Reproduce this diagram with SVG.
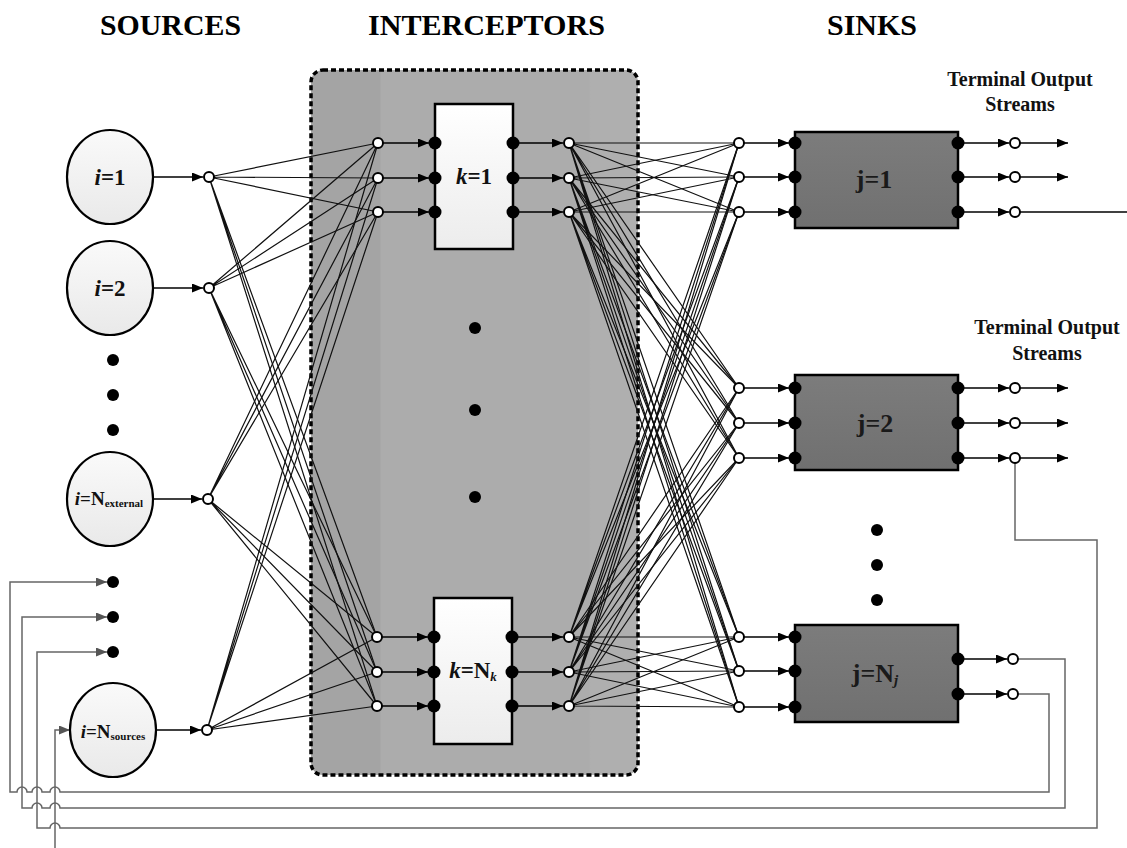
<svg xmlns="http://www.w3.org/2000/svg" width="1127" height="848" viewBox="0 0 1127 848">
<style>
.hd{font-family:"Liberation Serif","Times New Roman",serif;font-weight:bold;font-size:30px;fill:#000}
.tos{font-family:"Liberation Serif","Times New Roman",serif;font-weight:bold;font-size:20px;fill:#111;text-anchor:middle}
.lbl{font-family:"Liberation Serif","Times New Roman",serif;font-weight:bold;font-size:23px;fill:#111;text-anchor:middle}
.sub{font-size:11px}
.mesh{stroke:#111;stroke-width:1.2;fill:none}
.arr{stroke:#000;stroke-width:1.6;fill:none;marker-end:url(#ah)}
.fba{stroke:#666;stroke-width:1.5;fill:none;marker-end:url(#ahg)}
.on{fill:#fff;stroke:#000;stroke-width:2}
.dot{fill:#000}
.src{fill:url(#gSrc);stroke:#000;stroke-width:2.2}
.kbox{fill:url(#gK);stroke:#000;stroke-width:2.5}
.jbox{fill:url(#gJ);stroke:#000;stroke-width:2.5}
</style>
<defs>
<linearGradient id="gSrc" x1="0" y1="0" x2="0" y2="1"><stop offset="0" stop-color="#fafafa"/><stop offset="1" stop-color="#e9e9e9"/></linearGradient>
<linearGradient id="gK" x1="0" y1="0" x2="0" y2="1"><stop offset="0" stop-color="#ffffff"/><stop offset="1" stop-color="#ececec"/></linearGradient>
<linearGradient id="gJ" x1="0" y1="0" x2="0" y2="1"><stop offset="0" stop-color="#7c7c7c"/><stop offset="1" stop-color="#707070"/></linearGradient>
<linearGradient id="gI" x1="0" y1="0" x2="1" y2="0">
<stop offset="0" stop-color="#a4a4a4"/><stop offset="0.21" stop-color="#a4a4a4"/><stop offset="0.215" stop-color="#acacac"/><stop offset="0.85" stop-color="#acacac"/><stop offset="0.855" stop-color="#afafaf"/><stop offset="1" stop-color="#afafaf"/>
</linearGradient>
<marker id="ah" markerUnits="userSpaceOnUse" markerWidth="12" markerHeight="10" refX="11" refY="4.5" orient="auto"><path d="M0,0 L11,4.5 L0,9 z" fill="#000"/></marker>
<marker id="ahg" markerUnits="userSpaceOnUse" markerWidth="12" markerHeight="10" refX="11" refY="4.5" orient="auto"><path d="M0,0 L11,4.5 L0,9 z" fill="#555"/></marker>
</defs>
<rect width="1127" height="848" fill="#fff"/>

<g id="headings">
<text class="hd" x="100" y="35" textLength="141" lengthAdjust="spacingAndGlyphs">SOURCES</text>
<text class="hd" x="368" y="35" textLength="237" lengthAdjust="spacingAndGlyphs">INTERCEPTORS</text>
<text class="hd" x="827" y="35" textLength="90" lengthAdjust="spacingAndGlyphs">SINKS</text>
<text class="tos" x="1020" y="86">Terminal Output</text>
<text class="tos" x="1020" y="111">Streams</text>
<text class="tos" x="1047" y="334">Terminal Output</text>
<text class="tos" x="1047" y="360">Streams</text>
</g>

<g id="interceptors">
<rect x="311" y="70" width="327" height="705" rx="12" fill="url(#gI)" stroke="#000" stroke-width="3.5" stroke-dasharray="5 3"/>
<circle class="dot" cx="475" cy="328" r="6"/>
<circle class="dot" cx="475" cy="410" r="6"/>
<circle class="dot" cx="475" cy="497" r="6"/>
</g>

<g id="connectors">
<path class="mesh" d="M209,177L378,143M209,177L378,178M209,177L378,212M209,177L377,637M209,177L377,672M209,177L377,706"/>
<path class="mesh" d="M209,288L378,143M209,288L378,178M209,288L378,212M209,288L377,637M209,288L377,672M209,288L377,706"/>
<path class="mesh" d="M208,499L378,143M208,499L378,178M208,499L378,212M208,499L377,637M208,499L377,672M208,499L377,706"/>
<path class="mesh" d="M207,730L378,143M207,730L378,178M207,730L378,212M207,730L377,637M207,730L377,672M207,730L377,706"/>
<path class="mesh" d="M569,143L739,143M569,143L739,177M569,143L739,212M569,143L739,388M569,143L739,423M569,143L739,458M569,143L739,637M569,143L739,671M569,143L739,707"/>
<path class="mesh" d="M569,178L739,143M569,178L739,177M569,178L739,212M569,178L739,388M569,178L739,423M569,178L739,458M569,178L739,637M569,178L739,671M569,178L739,707"/>
<path class="mesh" d="M569,212L739,143M569,212L739,177M569,212L739,212M569,212L739,388M569,212L739,423M569,212L739,458M569,212L739,637M569,212L739,671M569,212L739,707"/>
<path class="mesh" d="M569,637L739,143M569,637L739,177M569,637L739,212M569,637L739,388M569,637L739,423M569,637L739,458M569,637L739,637M569,637L739,671M569,637L739,707"/>
<path class="mesh" d="M569,672L739,143M569,672L739,177M569,672L739,212M569,672L739,388M569,672L739,423M569,672L739,458M569,672L739,637M569,672L739,671M569,672L739,707"/>
<path class="mesh" d="M569,706L739,143M569,706L739,177M569,706L739,212M569,706L739,388M569,706L739,423M569,706L739,458M569,706L739,637M569,706L739,671M569,706L739,707"/>

<path class="arr" d="M153,177H203"/>
<path class="arr" d="M153,288H203"/>
<path class="arr" d="M153,499H202"/>
<path class="arr" d="M156,730H201"/>

<path class="arr" d="M383,143H429"/>
<path class="arr" d="M383,178H429"/>
<path class="arr" d="M383,212H429"/>
<path class="arr" d="M382,637H428"/>
<path class="arr" d="M382,672H428"/>
<path class="arr" d="M382,706H428"/>

<path class="arr" d="M519,143H563"/>
<path class="arr" d="M519,178H563"/>
<path class="arr" d="M519,212H563"/>
<path class="arr" d="M518,637H563"/>
<path class="arr" d="M518,672H563"/>
<path class="arr" d="M518,706H563"/>

<path class="arr" d="M744,143H789"/>
<path class="arr" d="M744,177H789"/>
<path class="arr" d="M744,212H789"/>
<path class="arr" d="M744,388H789"/>
<path class="arr" d="M744,423H789"/>
<path class="arr" d="M744,458H789"/>
<path class="arr" d="M744,637H789"/>
<path class="arr" d="M744,671H789"/>
<path class="arr" d="M744,707H789"/>

<path class="arr" d="M964,143H1009"/>
<path class="arr" d="M964,177H1009"/>
<path class="arr" d="M964,212H1009"/>
<path class="arr" d="M964,388H1009"/>
<path class="arr" d="M964,423H1009"/>
<path class="arr" d="M964,458H1009"/>
<path class="arr" d="M964,659H1007"/>
<path class="arr" d="M964,694H1007"/>

<path class="arr" d="M1020,143H1068"/>
<path class="arr" d="M1020,177H1068"/>
<path class="arr" d="M1020,388H1068"/>
<path class="arr" d="M1020,423H1068"/>
<path class="arr" d="M1020,458H1068"/>
<path d="M1020,212H1127" stroke="#000" stroke-width="1.3" fill="none"/>

<path class="fba" d="M1018,694H1049V792H60A5,5 0 0 0 50,792H42A5,5 0 0 0 32,792H27A5,5 0 0 0 17,792H10V582H107"/>
<path class="fba" d="M1018,659H1065V808H60A5,5 0 0 0 50,808H42A5,5 0 0 0 32,808H22V617H107"/>
<path class="fba" d="M1015,461V540H1097V828H60A5,5 0 0 0 50,828H37V652H107"/>
<path class="fba" d="M55,848V730H70"/>
</g>

<g id="source-dots">
<circle class="dot" cx="113" cy="360" r="6"/>
<circle class="dot" cx="113" cy="395" r="6"/>
<circle class="dot" cx="113" cy="430" r="6"/>
<circle class="dot" cx="113" cy="582" r="6"/>
<circle class="dot" cx="113" cy="617" r="6"/>
<circle class="dot" cx="113" cy="652" r="6"/>
</g>

<g id="source-1">
<ellipse class="src" cx="110" cy="177" rx="43" ry="47"/>
<text class="lbl" x="110" y="185"><tspan font-style="italic">i</tspan>=1</text>
<circle class="on" cx="209" cy="177" r="5"/>
</g>
<g id="source-2">
<ellipse class="src" cx="110" cy="288" rx="43" ry="47"/>
<text class="lbl" x="110" y="296"><tspan font-style="italic">i</tspan>=2</text>
<circle class="on" cx="209" cy="288" r="5"/>
</g>
<g id="source-external">
<ellipse class="src" cx="110" cy="499" rx="43" ry="47"/>
<text class="lbl" x="109" y="505" style="font-size:19px"><tspan font-style="italic">i</tspan>=N<tspan class="sub" dy="2">external</tspan></text>
<circle class="on" cx="208" cy="499" r="5"/>
</g>
<g id="source-n">
<ellipse class="src" cx="113" cy="730" rx="43" ry="47"/>
<text class="lbl" x="113" y="738" style="font-size:19px"><tspan font-style="italic">i</tspan>=N<tspan class="sub" dy="2">sources</tspan></text>
<circle class="on" cx="207" cy="730" r="5"/>
</g>

<g id="interceptor-1">
<rect class="kbox" x="435" y="104" width="78" height="145"/>
<text class="lbl" x="474" y="184"><tspan font-style="italic">k</tspan>=1</text>
<circle class="on" cx="378" cy="143" r="5"/>
<circle class="on" cx="378" cy="178" r="5"/>
<circle class="on" cx="378" cy="212" r="5"/>
<circle class="dot" cx="435" cy="143" r="6.5"/>
<circle class="dot" cx="435" cy="178" r="6.5"/>
<circle class="dot" cx="435" cy="212" r="6.5"/>
<circle class="dot" cx="513" cy="143" r="6.5"/>
<circle class="dot" cx="513" cy="178" r="6.5"/>
<circle class="dot" cx="513" cy="212" r="6.5"/>
<circle class="on" cx="569" cy="143" r="5"/>
<circle class="on" cx="569" cy="178" r="5"/>
<circle class="on" cx="569" cy="212" r="5"/>
</g>
<g id="interceptor-n">
<rect class="kbox" x="434" y="598" width="78" height="146"/>
<text class="lbl" x="473" y="678"><tspan font-style="italic">k</tspan>=N<tspan font-style="italic" font-size="13" dy="3">k</tspan></text>
<circle class="on" cx="377" cy="637" r="5"/>
<circle class="on" cx="377" cy="672" r="5"/>
<circle class="on" cx="377" cy="706" r="5"/>
<circle class="dot" cx="434" cy="637" r="6.5"/>
<circle class="dot" cx="434" cy="672" r="6.5"/>
<circle class="dot" cx="434" cy="706" r="6.5"/>
<circle class="dot" cx="512" cy="637" r="6.5"/>
<circle class="dot" cx="512" cy="672" r="6.5"/>
<circle class="dot" cx="512" cy="706" r="6.5"/>
<circle class="on" cx="569" cy="637" r="5"/>
<circle class="on" cx="569" cy="672" r="5"/>
<circle class="on" cx="569" cy="706" r="5"/>
</g>

<g id="sink-1">
<rect class="jbox" x="795" y="132" width="163" height="96"/>
<text class="lbl" x="874" y="188" style="font-size:26px;fill:#1a1a1a">j=1</text>
<circle class="on" cx="739" cy="143" r="5"/>
<circle class="on" cx="739" cy="177" r="5"/>
<circle class="on" cx="739" cy="212" r="5"/>
<circle class="dot" cx="795" cy="143" r="6.5"/>
<circle class="dot" cx="795" cy="177" r="6.5"/>
<circle class="dot" cx="795" cy="212" r="6.5"/>
<circle class="dot" cx="958" cy="143" r="6.5"/>
<circle class="dot" cx="958" cy="177" r="6.5"/>
<circle class="dot" cx="958" cy="212" r="6.5"/>
<circle class="on" cx="1015" cy="143" r="5"/>
<circle class="on" cx="1015" cy="177" r="5"/>
<circle class="on" cx="1015" cy="212" r="5"/>
</g>
<g id="sink-2">
<rect class="jbox" x="795" y="375" width="163" height="95"/>
<text class="lbl" x="875" y="432" style="font-size:26px;fill:#1a1a1a">j=2</text>
<circle class="on" cx="739" cy="388" r="5"/>
<circle class="on" cx="739" cy="423" r="5"/>
<circle class="on" cx="739" cy="458" r="5"/>
<circle class="dot" cx="795" cy="388" r="6.5"/>
<circle class="dot" cx="795" cy="423" r="6.5"/>
<circle class="dot" cx="795" cy="458" r="6.5"/>
<circle class="dot" cx="958" cy="388" r="6.5"/>
<circle class="dot" cx="958" cy="423" r="6.5"/>
<circle class="dot" cx="958" cy="458" r="6.5"/>
<circle class="on" cx="1015" cy="388" r="5"/>
<circle class="on" cx="1015" cy="423" r="5"/>
<circle class="on" cx="1015" cy="458" r="5"/>
</g>
<g id="sink-dots">
<circle class="dot" cx="877" cy="530" r="6"/>
<circle class="dot" cx="877" cy="565" r="6"/>
<circle class="dot" cx="877" cy="600" r="6"/>
</g>
<g id="sink-n">
<rect class="jbox" x="795" y="625" width="163" height="97"/>
<text class="lbl" x="875" y="682" style="font-size:26px;fill:#1a1a1a">j=N<tspan font-style="italic" font-size="15" dy="3">j</tspan></text>
<circle class="on" cx="739" cy="637" r="5"/>
<circle class="on" cx="739" cy="671" r="5"/>
<circle class="on" cx="739" cy="707" r="5"/>
<circle class="dot" cx="795" cy="637" r="6.5"/>
<circle class="dot" cx="795" cy="671" r="6.5"/>
<circle class="dot" cx="795" cy="707" r="6.5"/>
<circle class="dot" cx="958" cy="659" r="6.5"/>
<circle class="dot" cx="958" cy="694" r="6.5"/>
<circle class="on" cx="1013" cy="659" r="5"/>
<circle class="on" cx="1013" cy="694" r="5"/>
</g>
</svg>
